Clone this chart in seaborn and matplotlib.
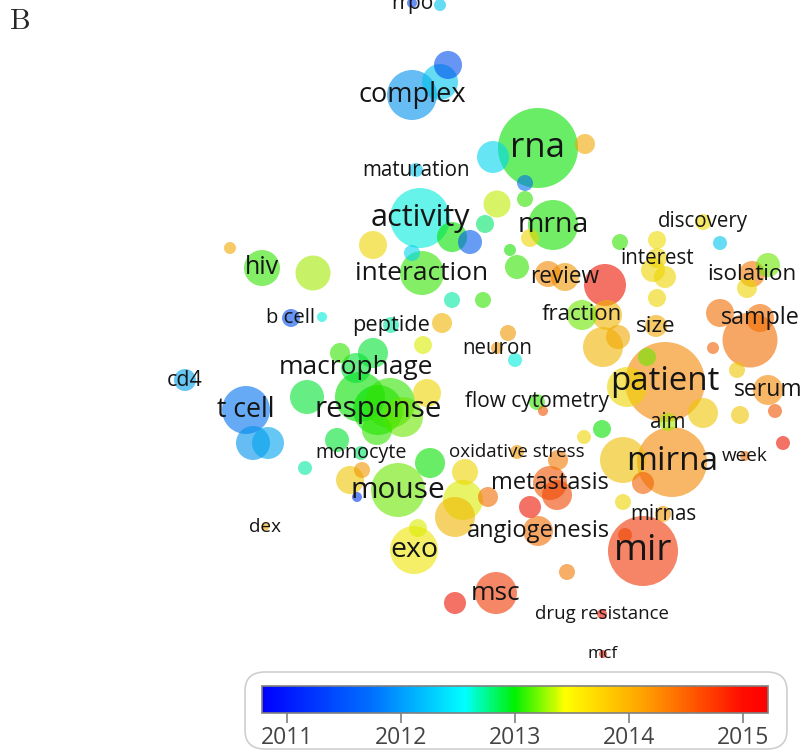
import matplotlib
matplotlib.use("Agg")
import matplotlib.pyplot as plt
from matplotlib.colors import LinearSegmentedColormap, Normalize
from matplotlib.patches import FancyBboxPatch
import matplotlib.cm as cm
import seaborn as sns
import pandas as pd

# labelled terms: map position (picture pixels), circle diameter, average publication year
terms = ["rrpo", "complex", "rna", "maturation", "activity", "mrna", "discovery", "hiv",
         "interaction", "review", "interest", "isolation", "b cell", "peptide", "fraction",
         "size", "sample", "neuron", "cd4", "macrophage", "patient", "serum", "t cell",
         "response", "flow cytometry", "aim", "monocyte", "oxidative stress", "mirna", "week",
         "mouse", "metastasis", "dex", "mirnas", "angiogenesis", "exo", "mir", "msc",
         "drug resistance", "mcf"]
term_x = [412, 412, 538, 416, 420, 553, 703, 262, 422, 565, 657, 752, 291, 391, 582,
          656, 760, 497, 185, 356, 665, 768, 246, 378, 537, 668, 361, 517, 672, 745,
          398, 550, 265, 663, 538, 414, 643, 496, 602, 603]
term_y = [3, 95, 148, 170, 218, 225, 222, 268, 273, 277, 258, 274, 318, 325, 315,
          326, 318, 348, 380, 368, 382, 390, 410, 410, 402, 422, 453, 452, 462, 456,
          490, 483, 527, 514, 531, 550, 551, 593, 614, 654]
term_d = [10, 50, 80, 14, 60, 50, 16, 36, 44, 28, 20, 26, 18, 16, 30,
          22, 28, 12, 22, 30, 80, 30, 48, 50, 16, 18, 14, 14, 70, 10,
          54, 34, 8, 16, 30, 48, 70, 42, 10, 8]
term_year = [2011.4, 2012.0, 2013.0, 2012.3, 2012.6, 2013.05, 2013.55, 2013.1,
             2013.1, 2014.0, 2013.6, 2014.2, 2011.5, 2012.7, 2013.2,
             2013.9, 2014.3, 2014.0, 2012.1, 2012.9, 2014.1, 2014.1, 2011.8,
             2013.0, 2013.1, 2013.3, 2012.8, 2014.0, 2014.1, 2014.3,
             2013.2, 2014.5, 2013.9, 2014.0, 2014.3, 2013.5, 2014.75, 2014.7,
             2015.0, 2015.0]

# circles whose labels are hidden
other_x = [440, 440, 448, 493, 585, 525, 452, 470, 373, 497, 525, 485, 530, 720, 620,
           657, 230, 313, 412, 452, 483, 517, 510, 548, 605, 665, 653, 768, 747, 322,
           442, 423, 607, 657, 603, 618, 508, 515, 750, 720, 713, 627, 703, 647, 737,
           740, 775, 543, 602, 584, 623, 783, 643, 623, 625, 337, 305, 465, 558, 430,
           350, 362, 357, 463, 455, 557, 530, 488, 418, 455, 567, 253, 268, 373, 340,
           307, 360, 390, 403, 427, 377]
other_y = [5, 82, 65, 157, 144, 183, 237, 242, 245, 204, 199, 224, 238, 243, 242,
           240, 248, 273, 253, 300, 300, 267, 250, 274, 285, 277, 270, 265, 288, 317,
           323, 345, 315, 298, 347, 337, 333, 360, 340, 313, 348, 387, 413, 357, 370,
           415, 411, 411, 429, 437, 460, 443, 483, 502, 535, 440, 468, 472, 460, 463,
           480, 470, 497, 500, 517, 495, 507, 497, 528, 603, 572, 443, 443, 353, 353,
           397, 397, 403, 417, 393, 430]
other_d = [12, 36, 28, 32, 20, 16, 30, 24, 28, 27, 16, 18, 18, 14, 16,
           18, 12, 35, 16, 16, 16, 24, 12, 26, 42, 22, 24, 24, 20, 10,
           20, 18, 30, 18, 40, 24, 16, 14, 55, 28, 12, 40, 30, 18, 16,
           18, 14, 10, 18, 14, 46, 14, 22, 16, 14, 24, 14, 26, 20, 30,
           28, 16, 10, 40, 40, 30, 22, 20, 18, 22, 16, 34, 32, 30, 20,
           34, 50, 50, 40, 28, 30]
other_year = [2012.3, 2012.3, 2011.5, 2012.4, 2013.9, 2011.8, 2013.0, 2011.6, 2013.6,
              2013.35, 2013.1, 2012.8, 2013.6, 2012.3, 2013.1, 2013.55, 2013.9, 2013.3,
              2012.4, 2012.7, 2013.1, 2013.1, 2013.05, 2014.1, 2015.0, 2013.6, 2013.6,
              2013.2, 2013.6, 2012.6, 2013.8, 2013.4, 2013.8, 2013.6, 2013.8, 2013.9,
              2014.0, 2012.6, 2014.3, 2014.3, 2014.4, 2013.6, 2013.7, 2013.2, 2013.7,
              2013.7, 2014.5, 2014.5, 2013.0, 2013.6, 2013.75, 2015.0, 2014.4, 2013.6,
              2014.6, 2012.9, 2012.7, 2013.6, 2014.2, 2013.0, 2013.7, 2014.0, 2011.3,
              2013.4, 2013.8, 2014.6, 2015.0, 2014.3, 2013.4, 2015.0, 2014.2, 2012.0,
              2012.1, 2012.9, 2013.1, 2012.9, 2013.0, 2013.1, 2013.2, 2013.6, 2013.1]

year_ticks = [2011, 2012, 2013, 2014, 2015]
year_min, year_max = 2010.78, 2015.22

# label font sizes (pt)
label_pt = {"rrpo": 15, "complex": 19.5, "rna": 25, "maturation": 14.8, "activity": 22,
            "mrna": 20.5, "discovery": 14.8, "hiv": 18, "interaction": 19, "review": 16.3,
            "interest": 14.8, "isolation": 16.2, "b cell": 14.6, "peptide": 15.7,
            "fraction": 16, "size": 16.2, "sample": 16.8, "neuron": 14.8, "cd4": 15.4,
            "macrophage": 19, "patient": 23.8, "serum": 16.5, "t cell": 19.2,
            "response": 21.3, "flow cytometry": 15, "aim": 14.8, "monocyte": 14.2,
            "oxidative stress": 13.5, "mirna": 24, "week": 13.6, "mouse": 21.5,
            "metastasis": 17, "dex": 13.6, "mirnas": 14.8, "angiogenesis": 17,
            "exo": 20.5, "mir": 26.5, "msc": 19, "drug resistance": 13.4, "mcf": 12.4}

bar_stops = [
    (0.00, (0.0, 0.0, 1.0)),
    (0.22, (0.0, 0.45, 1.0)),
    (0.40, (0.0, 1.0, 1.0)),
    (0.50, (0.0, 0.95, 0.0)),
    (0.60, (1.0, 1.0, 0.0)),
    (0.76, (1.0, 0.62, 0.0)),
    (0.95, (1.0, 0.05, 0.0)),
    (1.00, (1.0, 0.0, 0.0)),
]
# circles: slightly darker and more orange than the legend bar
circle_stops = [
    (0.00, (0.0, 0.0, 0.93)),
    (0.22, (0.0, 0.42, 0.93)),
    (0.40, (0.0, 0.93, 0.93)),
    (0.50, (0.0, 0.88, 0.0)),
    (0.60, (0.93, 0.93, 0.0)),
    (0.76, (0.95, 0.50, 0.0)),
    (0.95, (0.93, 0.08, 0.0)),
    (1.00, (0.93, 0.0, 0.0)),
]
vos = LinearSegmentedColormap.from_list("vos", bar_stops)
vos_circles = LinearSegmentedColormap.from_list("vos_circles", circle_stops)
norm = Normalize(year_min, year_max)

df = pd.DataFrame({
    "x": term_x + other_x,
    "y": term_y + other_y,
    "d": term_d + other_d,
    "year": term_year + other_year,
})
df["area"] = (df["d"] * 0.72) ** 2
df = df.sort_values("d", ascending=False)

sns.set_style("white")
plt.rcParams["font.family"] = ["Open Sans", "DejaVu Sans"]

fig = plt.figure(figsize=(8.04, 7.52), dpi=100)
ax = fig.add_axes([0, 0, 1, 1])
amin, amax = df["area"].min(), df["area"].max()
sns.scatterplot(data=df, x="x", y="y", hue="year", palette=vos_circles, hue_norm=norm,
                size="area", sizes=(amin, amax), size_norm=(amin, amax),
                alpha=0.6, linewidth=0, legend=False, ax=ax)
ax.set_xlim(0, 804)
ax.set_ylim(752, 0)
ax.axis("off")

for t, x, y in zip(terms, term_x, term_y):
    ax.text(x, y, t, ha="center", va="center", fontsize=label_pt[t], color="#151515")

fig.text(10 / 804, 1 - 22 / 752, "B", family="cmr10", fontsize=21, ha="left", va="center")

# colour legend box
box = FancyBboxPatch((245 / 804, 1 - 749 / 752), 542 / 804, 77 / 752,
                     boxstyle="round,pad=0,rounding_size=0.025",
                     transform=fig.transFigure, facecolor="white",
                     edgecolor="#cfcfcf", linewidth=1.2, zorder=-1)
fig.patches.append(box)

cax = fig.add_axes([262 / 804, 1 - 713 / 752, 506 / 804, 27 / 752])
cax.set_zorder(2)
sm = cm.ScalarMappable(norm=norm, cmap=vos)
cb = fig.colorbar(sm, cax=cax, orientation="horizontal", ticks=year_ticks)
cb.outline.set_edgecolor("#808080")
cb.outline.set_linewidth(1.2)
cax.tick_params(direction="inout", length=14, width=1.2, color="#808080",
                labelsize=16.5, labelcolor="#444444", pad=2)

fig.savefig("out.png", dpi=100)
